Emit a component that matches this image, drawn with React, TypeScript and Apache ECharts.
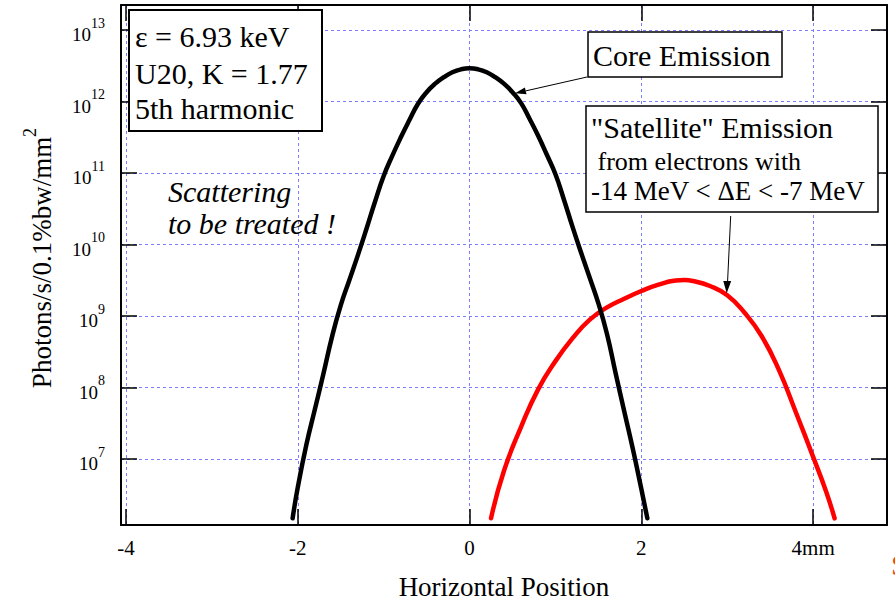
import React, { useEffect, useRef } from "react";
import * as echarts from "echarts";

// ---- data ----
const xTickValues = [-4, -2, 0, 2, 4];
const xTickLabels = ["-4", "-2", "0", "2", "4mm"];
const yTickExponents = [7, 8, 9, 10, 11, 12, 13];

// Core emission (black), horizontal position in mm
const coreX = [
  -2.06, -2.0, -1.9, -1.8, -1.7, -1.6, -1.5, -1.4, -1.3, -1.2, -1.1, -1.0, -0.9, -0.8, -0.7, -0.6, -0.5, -0.4, -0.3, -0.2, -0.1,
  0,
  0.1, 0.2, 0.3, 0.4, 0.5, 0.6, 0.7, 0.8, 0.9, 1.0, 1.1, 1.2, 1.3, 1.4, 1.5, 1.6, 1.7, 1.8, 1.9, 2.0, 2.07,
];
// photons/s/0.1%bw/mm^2
const coreY = [
  1.48e6, 4.0e6, 1.58e7, 5.0e7, 1.58e8, 5.2e8, 1.41e9, 3.16e9, 7.1e9, 1.66e10, 4.0e10, 9.1e10, 1.74e11, 3.16e11, 5.5e11, 9.3e11, 1.35e12, 1.78e12, 2.19e12, 2.57e12, 2.82e12,
  2.91e12,
  2.82e12, 2.57e12, 2.19e12, 1.78e12, 1.35e12, 9.5e11, 5.7e11, 3.3e11, 1.8e11, 9.6e10, 4.2e10, 1.75e10, 7.6e9, 3.4e9, 1.5e9, 5.6e8, 1.6e8, 4.7e7, 1.4e7, 3.8e6, 1.48e6,
];

// "Satellite" emission (red)
const satX = [0.25, 0.4, 0.6, 0.8, 1.0, 1.2, 1.4, 1.6, 1.8, 2.0, 2.2, 2.4, 2.5, 2.6, 2.8, 3.0, 3.2, 3.4, 3.6, 3.8, 4.0, 4.15, 4.25];
const satY = [1.48e6, 6.8e6, 2.82e7, 9.5e7, 2.34e8, 4.9e8, 8.9e8, 1.32e9, 1.74e9, 2.24e9, 2.75e9, 3.13e9, 3.18e9, 3.09e9, 2.63e9, 1.95e9, 1.12e9, 5.25e8, 1.78e8, 4.47e7, 1.07e7, 3.55e6, 1.48e6];

const infoLines = ["ε = 6.93 keV", "U20, K = 1.77", "5th harmonic"];
const coreLabel = "Core Emission";
const satLines = ['"Satellite" Emission', " from electrons with", "-14 MeV < ΔE < -7 MeV"];
const noteLines = ["Scattering", "to be treated !"];
const xName = "Horizontal Position";
const yName = "Photons/s/0.1%bw/mm";
const yNameSup = "2";

const X_MIN = -4.058;
const X_MAX = 4.86;
const Y_MIN = 1.194e6;
const Y_MAX = 2.24e13;

const FONT = '"Liberation Serif", "DejaVu Serif", "Times New Roman", serif';

function xFormatter(v: number) {
  const r = Math.round(v);
  if (Math.abs(v - r) > 1e-6) return "";
  const i = xTickValues.indexOf(r);
  return i >= 0 ? xTickLabels[i] : "";
}

function yFormatter(v: number) {
  const e = Math.log10(v);
  const r = Math.round(e);
  if (Math.abs(e - r) > 1e-6) return "";
  if (yTickExponents.indexOf(r) < 0) return "";
  return `{b|10}{s|${r}}`;
}

export default function App() {
  const ref = useRef<HTMLDivElement>(null);
  useEffect(() => {
    if (!ref.current) return;
    const chart = echarts.init(ref.current, null, { renderer: "svg" });

    const axisLine = { show: true, onZero: false, lineStyle: { color: "#000", width: 2 } };
    const axisTick = { show: true, inside: true, length: 16, lineStyle: { color: "#000", width: 1.5 } };
    const splitLine = { show: true, lineStyle: { color: "#7c7cff", type: [3, 3], width: 1 } };

    const textStyle = (size: number, extra: any = {}) => ({
      fontFamily: FONT,
      fontSize: size,
      fill: "#000",
      ...extra,
    });

    const graphic: any[] = [
      // info box
      { type: "rect", z: 100, shape: { x: 129, y: 10, width: 193, height: 121 }, style: { fill: "#fff", stroke: "#000", lineWidth: 2 } },
      ...infoLines.map((t, i) => ({
        type: "text", z: 101, x: 135, y: [36.6, 73.2, 108][i],
        style: { text: t, ...textStyle(30), align: "left", verticalAlign: "middle" },
      })),
      // core emission box
      { type: "rect", z: 100, shape: { x: 588, y: 32, width: 194, height: 45 }, style: { fill: "#fff", stroke: "#000", lineWidth: 1.5 } },
      { type: "text", z: 101, x: 593, y: 55, style: { text: coreLabel, ...textStyle(30), align: "left", verticalAlign: "middle" } },
      { type: "line", z: 101, shape: { x1: 587, y1: 77, x2: 525.7, y2: 90.9 }, style: { stroke: "#000", lineWidth: 1 } },
      { type: "polygon", z: 101, shape: { points: [[515, 93.3], [526.5, 94.3], [524.9, 87.5]] }, style: { fill: "#000" } },
      // satellite box
      { type: "rect", z: 100, shape: { x: 586, y: 106, width: 292, height: 106 }, style: { fill: "#fff", stroke: "#000", lineWidth: 1.5 } },
      { type: "text", z: 101, x: 591, y: 127.6, style: { text: satLines[0], ...textStyle(30), align: "left", verticalAlign: "middle" } },
      { type: "text", z: 101, x: 591, y: 161.2, style: { text: satLines[1], ...textStyle(26), align: "left", verticalAlign: "middle" } },
      { type: "text", z: 101, x: 591, y: 190.9, style: { text: satLines[2], ...textStyle(27), align: "left", verticalAlign: "middle" } },
      { type: "line", z: 101, shape: { x1: 730.7, y1: 216, x2: 727.6, y2: 281 }, style: { stroke: "#000", lineWidth: 1 } },
      { type: "polygon", z: 101, shape: { points: [[726.7, 293.3], [723.3, 281], [731.2, 281]] }, style: { fill: "#000" } },
      // scattering note
      {
        type: "text", z: 101, x: 168, y: 207,
        style: { text: noteLines.join("\n"), ...textStyle(30), lineHeight: 32, fontStyle: "italic", align: "left", verticalAlign: "middle" },
      },
      // axis names
      { type: "text", z: 101, x: 504, y: 587, style: { text: xName, ...textStyle(27), align: "center", verticalAlign: "middle" } },
      {
        type: "text", z: 101, x: 38, y: 258, rotation: Math.PI / 2,
        style: {
          text: `{m|${yName}}{s|${yNameSup}}`,
          align: "center", verticalAlign: "middle",
          fontFamily: FONT, fontSize: 27, fill: "#000",
          rich: {
            m: { fontFamily: FONT, fontSize: 27, lineHeight: 34, verticalAlign: "bottom", fill: "#000" },
            s: { fontFamily: FONT, fontSize: 18, verticalAlign: "top", fill: "#000" },
          },
        },
      },
      // cut-off fragment at page edge
      { type: "text", z: 101, x: 891, y: 564, style: { text: "S", ...textStyle(30), fill: "#f04a10", align: "left", verticalAlign: "middle" } },
    ];

    const option: any = {
      animation: false,
      backgroundColor: "#ffffff",
      grid: { left: 121, right: 8, top: 5, bottom: 76, containLabel: false, outerBoundsMode: "none" },
      xAxis: [
        {
          type: "value", min: X_MIN, max: X_MAX, splitNumber: 4, position: "bottom",
          axisLine, axisTick,
          axisLabel: {
            show: true, showMinLabel: false, showMaxLabel: false, margin: 12,
            color: "#000", fontFamily: FONT, fontSize: 21, formatter: xFormatter,
          },
          splitLine,
        },
        {
          type: "value", min: X_MIN, max: X_MAX, splitNumber: 4, position: "top",
          axisLine, axisTick, axisLabel: { show: false }, splitLine: { show: false },
        },
      ],
      yAxis: [
        {
          type: "log", logBase: 10, min: Y_MIN, max: Y_MAX, splitNumber: 7, position: "left",
          axisLine, axisTick,
          axisLabel: {
            show: true, showMinLabel: false, showMaxLabel: false, margin: 16,
            color: "#000", fontFamily: FONT, formatter: yFormatter,
            rich: {
              b: { fontFamily: FONT, fontSize: 19, color: "#000", lineHeight: 28, verticalAlign: "bottom" },
              s: { fontFamily: FONT, fontSize: 14, color: "#000", verticalAlign: "top" },
            },
          },
          splitLine,
        },
        {
          type: "log", logBase: 10, min: Y_MIN, max: Y_MAX, splitNumber: 7, position: "right",
          axisLine, axisTick, axisLabel: { show: false }, splitLine: { show: false },
        },
      ],
      series: [
        {
          name: "Satellite Emission", type: "line", xAxisIndex: 0, yAxisIndex: 0,
          data: satX.map((x, i) => [x, satY[i]]),
          showSymbol: false, smooth: 0.5, z: 3,
          lineStyle: { color: "#ff0000", width: 4.5, cap: "round", join: "round" },
        },
        {
          name: "Core Emission", type: "line", xAxisIndex: 0, yAxisIndex: 0,
          data: coreX.map((x, i) => [x, coreY[i]]),
          showSymbol: false, smooth: 0.5, z: 4,
          lineStyle: { color: "#000000", width: 4.5, cap: "round", join: "round" },
        },
      ],
      graphic,
    };

    chart.setOption(option);
    return () => chart.dispose();
  }, []);

  return (
    <div
      ref={ref}
      style={{ position: "fixed", left: 0, top: 0, width: 895, height: 601, background: "#fff" }}
    />
  );
}
